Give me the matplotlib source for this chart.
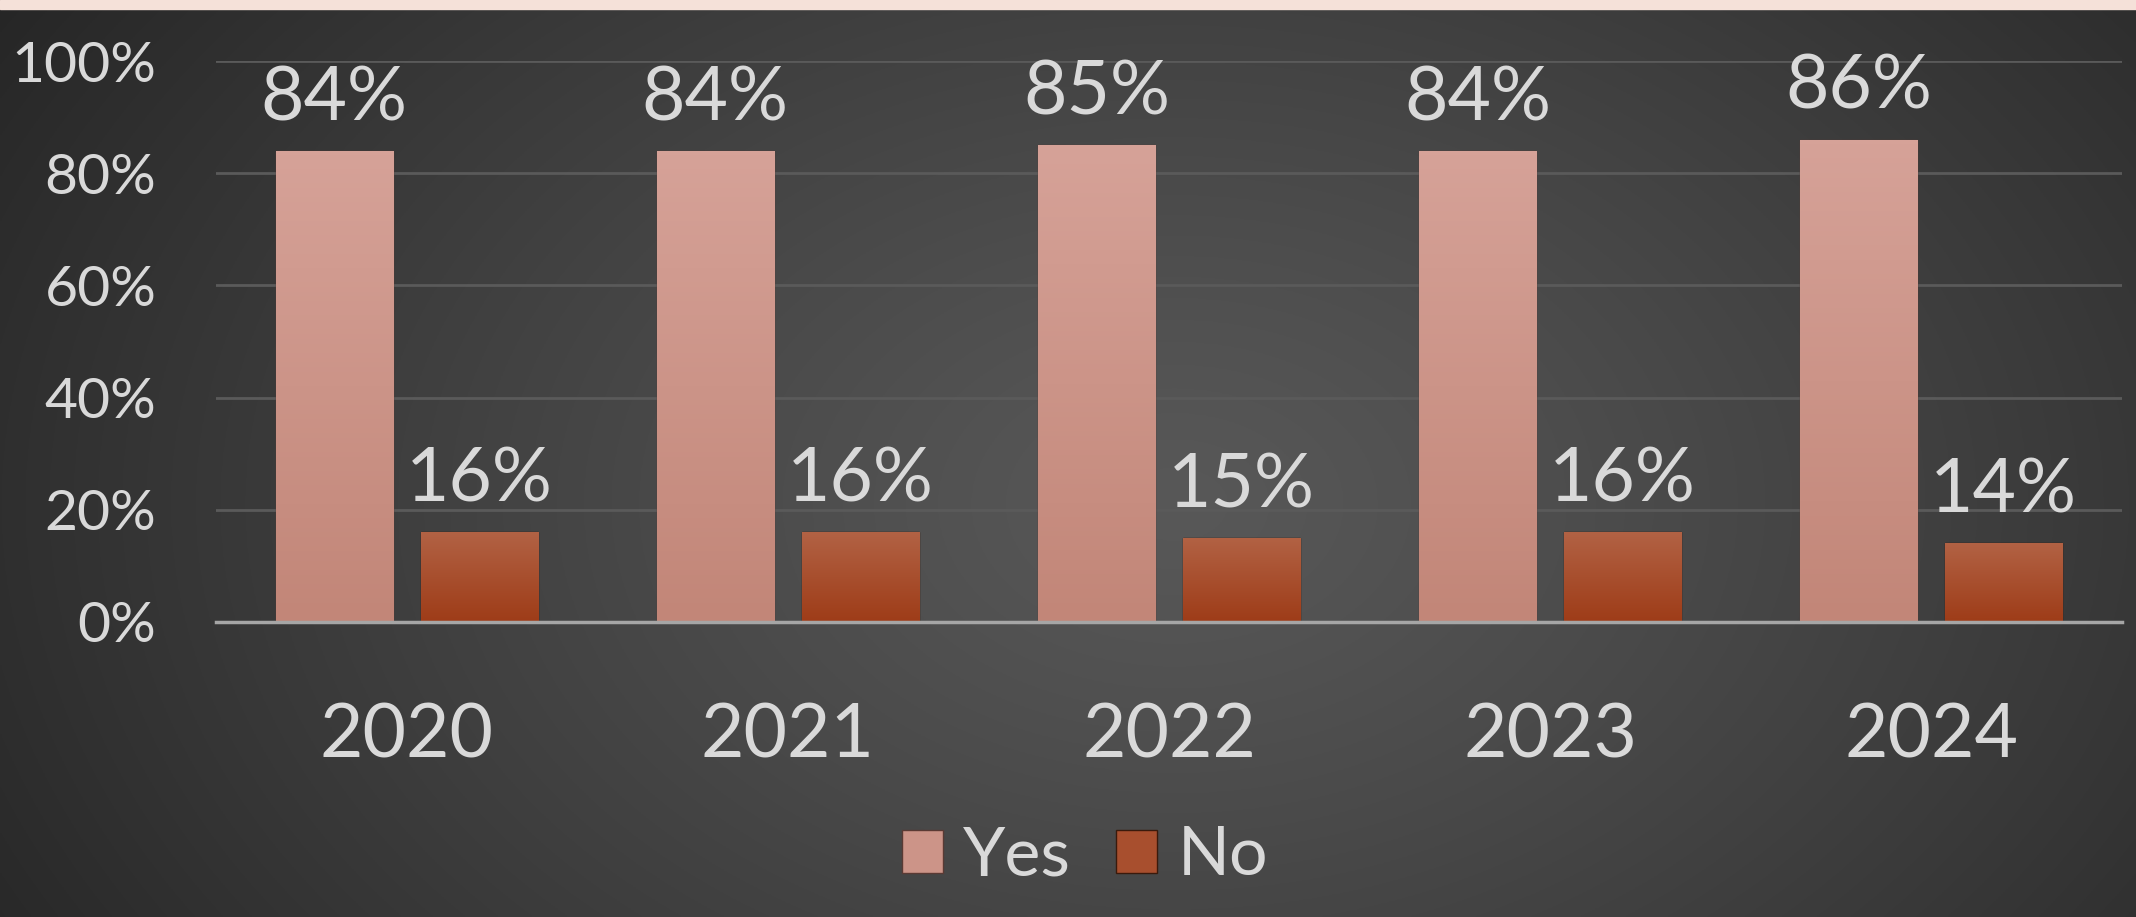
import numpy as np
import matplotlib
matplotlib.use("Agg")
import matplotlib.pyplot as plt
from matplotlib.patches import Patch

plt.rcParams['font.family'] = ['Lato', 'DejaVu Sans']

years = ['2020', '2021', '2022', '2023', '2024']
yes = [0.84, 0.84, 0.85, 0.84, 0.86]
no = [0.16, 0.16, 0.15, 0.16, 0.14]
yticks = [0, 0.2, 0.4, 0.6, 0.8, 1.0]

txt = '#d9d9d9'
yes_top, yes_bot = np.array([214, 162, 152]) / 255, np.array([194, 134, 120]) / 255
no_top, no_bot = np.array([178, 98, 68]) / 255, np.array([158, 60, 24]) / 255

fig = plt.figure(figsize=(21.36, 9.17), dpi=100)

# radial background
bg = fig.add_axes([0, 0, 1, 1], zorder=-2)
yy, xx = np.mgrid[0:1:400j, 0:1:900j]
r = np.sqrt(((xx - 0.55) * 1.6) ** 2 + ((yy - 0.45) * 1.0) ** 2)
r = np.clip(r / r.max(), 0, 1)
c0, c1 = np.array([88, 88, 88]) / 255, np.array([38, 38, 38]) / 255
img = c0 + (c1 - c0) * r[..., None] ** 1.2
bg.imshow(img, extent=[0, 1, 0, 1], aspect='auto', origin='lower')
bg.axhspan(1 - 9 / 917, 1, color='#f5e1d9')
bg.set_xlim(0, 1)
bg.set_ylim(0, 1)
bg.axis('off')

ax = fig.add_axes([216 / 2136, 1 - 622 / 917, (2122 - 216) / 2136, 561 / 917])
ax.set_facecolor('none')
x = np.arange(len(years))
w = 0.307
off = 0.19
ax.set_xlim(-0.5, 4.5)
ax.set_ylim(0, 1)

b1 = ax.bar(x - off, yes, w, color=yes_top, edgecolor='#5a3a34', linewidth=1, zorder=3)
b2 = ax.bar(x + off, no, w, color=no_top, edgecolor='#3a1a0c', linewidth=1, zorder=3)

def grad(bars, top, bot):
    g = np.linspace(0, 1, 100)[:, None, None]
    im = bot + (top - bot) * g
    for p in bars:
        x0, y0 = p.get_x(), p.get_y()
        i = ax.imshow(im, extent=[x0, x0 + p.get_width(), y0, y0 + p.get_height()],
                      aspect='auto', origin='lower', zorder=3.5)
        i.set_clip_path(p)

grad(b1, yes_top, yes_bot)
grad(b2, no_top, no_bot)

for bars, vals in ((b1, yes), (b2, no)):
    for p, v in zip(bars, vals):
        ax.annotate(f'{round(v * 100)}%', (p.get_x() + p.get_width() / 2, v),
                    xytext=(0, 22), textcoords='offset points', ha='center',
                    va='baseline', fontsize=54, color=txt, zorder=5)

ax.set_yticks(yticks)
ax.set_yticklabels([f'{int(t * 100)}%' for t in yticks])
ax.set_xticks(x)
ax.set_xticklabels(years)
ax.tick_params(axis='y', length=0, pad=43, labelsize=41, labelcolor=txt)
ax.tick_params(axis='x', length=0, pad=57, labelsize=54, labelcolor=txt)
ax.grid(axis='y', color='#5a5a5a', linewidth=2, zorder=0)
for s in ('top', 'right', 'left'):
    ax.spines[s].set_visible(False)
ax.spines['bottom'].set_color('#a6a6a6')
ax.spines['bottom'].set_linewidth(2.5)
ax.spines['bottom'].set_zorder(6)

handles = [Patch(facecolor=(yes_top + yes_bot) / 2, edgecolor='#5a3a34'),
           Patch(facecolor=(no_top + no_bot) / 2, edgecolor='#3a1a0c')]
fig.legend(handles, ['Yes', 'No'], loc='center', bbox_to_anchor=(0.508, 0.066), ncol=2,
           frameon=False, fontsize=49, labelcolor=txt, handlelength=0.6, handleheight=0.6,
           handletextpad=0.3, columnspacing=0.66)

fig.savefig('out.png', dpi=100)
